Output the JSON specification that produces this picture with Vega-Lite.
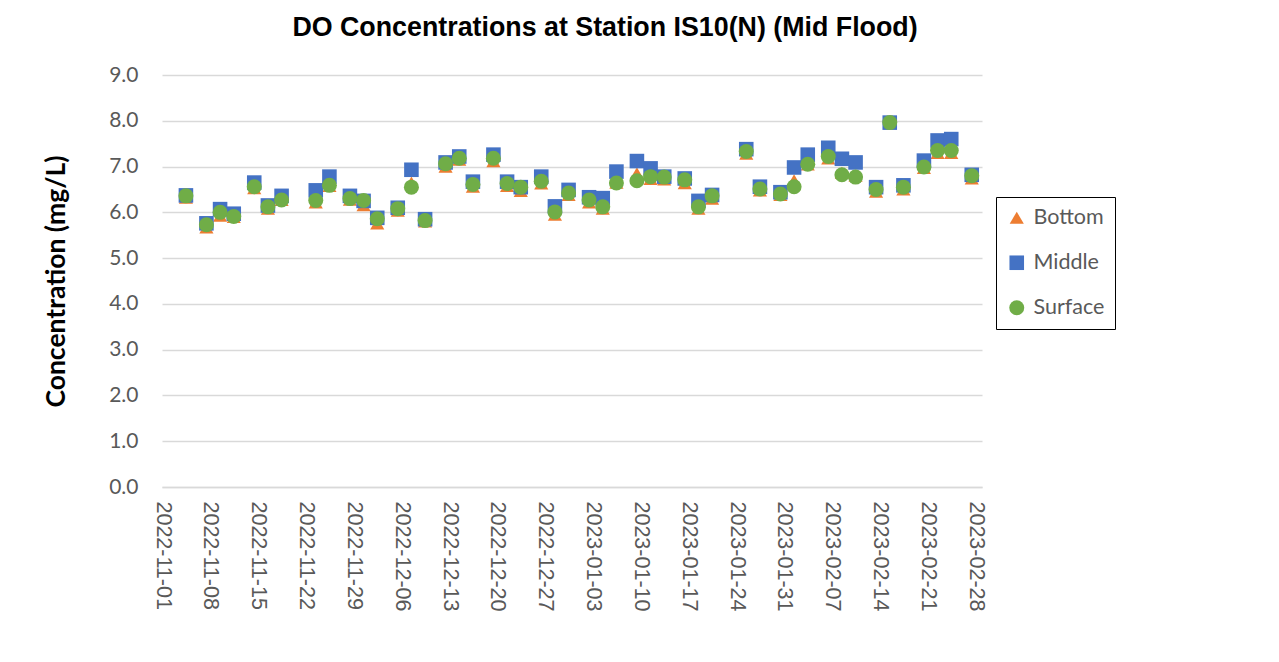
{
  "$schema": "https://vega.github.io/schema/vega-lite/v6.json",
  "width": 820,
  "height": 412,
  "autosize": {"type": "none"},
  "padding": {"left": 162, "top": 75, "right": 297, "bottom": 175},
  "background": "white",
  "title": {
    "text": "DO Concentrations at Station IS10(N) (Mid Flood)",
    "font": "Liberation Sans",
    "fontSize": 26.8,
    "fontWeight": "bold",
    "color": "black",
    "anchor": "middle",
    "dx": 33,
    "offset": 22
  },
  "data": {
    "values": [
      {"date": "2022-11-04", "Bottom": 6.32, "Middle": 6.37, "Surface": 6.36},
      {"date": "2022-11-07", "Bottom": 5.67, "Middle": 5.76, "Surface": 5.73},
      {"date": "2022-11-09", "Bottom": 5.93, "Middle": 6.07, "Surface": 6.00},
      {"date": "2022-11-11", "Bottom": 5.90, "Middle": 5.97, "Surface": 5.91},
      {"date": "2022-11-14", "Bottom": 6.53, "Middle": 6.65, "Surface": 6.56},
      {"date": "2022-11-16", "Bottom": 6.08, "Middle": 6.15, "Surface": 6.12},
      {"date": "2022-11-18", "Bottom": 6.27, "Middle": 6.36, "Surface": 6.27},
      {"date": "2022-11-23", "Bottom": 6.22, "Middle": 6.48, "Surface": 6.26},
      {"date": "2022-11-25", "Bottom": 6.58, "Middle": 6.78, "Surface": 6.59},
      {"date": "2022-11-28", "Bottom": 6.28, "Middle": 6.36, "Surface": 6.30},
      {"date": "2022-11-30", "Bottom": 6.16, "Middle": 6.25, "Surface": 6.26},
      {"date": "2022-12-02", "Bottom": 5.76, "Middle": 5.88, "Surface": 5.86},
      {"date": "2022-12-05", "Bottom": 6.04, "Middle": 6.10, "Surface": 6.08},
      {"date": "2022-12-07", "Bottom": 6.65, "Middle": 6.93, "Surface": 6.55},
      {"date": "2022-12-09", "Bottom": 5.80, "Middle": 5.85, "Surface": 5.82},
      {"date": "2022-12-12", "Bottom": 7.00, "Middle": 7.09, "Surface": 7.06},
      {"date": "2022-12-14", "Bottom": 7.15, "Middle": 7.22, "Surface": 7.18},
      {"date": "2022-12-16", "Bottom": 6.56, "Middle": 6.67, "Surface": 6.61},
      {"date": "2022-12-19", "Bottom": 7.12, "Middle": 7.26, "Surface": 7.18},
      {"date": "2022-12-21", "Bottom": 6.58, "Middle": 6.67, "Surface": 6.63},
      {"date": "2022-12-23", "Bottom": 6.47, "Middle": 6.55, "Surface": 6.55},
      {"date": "2022-12-26", "Bottom": 6.63, "Middle": 6.78, "Surface": 6.68},
      {"date": "2022-12-28", "Bottom": 5.95, "Middle": 6.13, "Surface": 6.01},
      {"date": "2022-12-30", "Bottom": 6.38, "Middle": 6.49, "Surface": 6.42},
      {"date": "2023-01-02", "Bottom": 6.22, "Middle": 6.33, "Surface": 6.27},
      {"date": "2023-01-04", "Bottom": 6.08, "Middle": 6.31, "Surface": 6.12},
      {"date": "2023-01-06", "Bottom": 6.65, "Middle": 6.89, "Surface": 6.64},
      {"date": "2023-01-09", "Bottom": 6.85, "Middle": 7.12, "Surface": 6.69},
      {"date": "2023-01-11", "Bottom": 6.73, "Middle": 6.96, "Surface": 6.78},
      {"date": "2023-01-13", "Bottom": 6.72, "Middle": 6.78, "Surface": 6.77},
      {"date": "2023-01-16", "Bottom": 6.64, "Middle": 6.74, "Surface": 6.71},
      {"date": "2023-01-18", "Bottom": 6.08, "Middle": 6.25, "Surface": 6.12},
      {"date": "2023-01-20", "Bottom": 6.30, "Middle": 6.38, "Surface": 6.36},
      {"date": "2023-01-25", "Bottom": 7.28, "Middle": 7.38, "Surface": 7.33},
      {"date": "2023-01-27", "Bottom": 6.48, "Middle": 6.56, "Surface": 6.51},
      {"date": "2023-01-30", "Bottom": 6.38, "Middle": 6.44, "Surface": 6.40},
      {"date": "2023-02-01", "Bottom": 6.70, "Middle": 6.98, "Surface": 6.56},
      {"date": "2023-02-03", "Bottom": 7.05, "Middle": 7.26, "Surface": 7.05},
      {"date": "2023-02-06", "Bottom": 7.18, "Middle": 7.41, "Surface": 7.22},
      {"date": "2023-02-08", "Bottom": 6.86, "Middle": 7.17, "Surface": 6.82},
      {"date": "2023-02-10", "Bottom": 6.80, "Middle": 7.09, "Surface": 6.77},
      {"date": "2023-02-13", "Bottom": 6.45, "Middle": 6.55, "Surface": 6.50},
      {"date": "2023-02-15", "Bottom": 7.95, "Middle": 7.96, "Surface": 7.96},
      {"date": "2023-02-17", "Bottom": 6.50, "Middle": 6.59, "Surface": 6.55},
      {"date": "2023-02-20", "Bottom": 6.97, "Middle": 7.13, "Surface": 6.99},
      {"date": "2023-02-22", "Bottom": 7.30, "Middle": 7.57, "Surface": 7.35},
      {"date": "2023-02-24", "Bottom": 7.30, "Middle": 7.60, "Surface": 7.35},
      {"date": "2023-02-27", "Bottom": 6.74, "Middle": 6.82, "Surface": 6.80}
    ]
  },
  "transform": [
    {"fold": ["Bottom", "Middle", "Surface"], "as": ["series", "value"]}
  ],
  "mark": {"type": "point", "filled": true, "opacity": 1},
  "encoding": {
    "x": {
      "field": "date",
      "type": "temporal",
      "timeUnit": "utcyearmonthdate",
      "bandPosition": 0.5,
      "scale": {
        "type": "utc",
        "domain": [
          {"year": 2022, "month": "nov", "date": 1, "utc": true},
          {"year": 2023, "month": "mar", "date": 1, "utc": true}
        ]
      },
      "axis": {
        "title": null,
        "values": [
          {"year": 2022, "month": "nov", "date": 1, "utc": true},
          {"year": 2022, "month": "nov", "date": 8, "utc": true},
          {"year": 2022, "month": "nov", "date": 15, "utc": true},
          {"year": 2022, "month": "nov", "date": 22, "utc": true},
          {"year": 2022, "month": "nov", "date": 29, "utc": true},
          {"year": 2022, "month": "dec", "date": 6, "utc": true},
          {"year": 2022, "month": "dec", "date": 13, "utc": true},
          {"year": 2022, "month": "dec", "date": 20, "utc": true},
          {"year": 2022, "month": "dec", "date": 27, "utc": true},
          {"year": 2023, "month": "jan", "date": 3, "utc": true},
          {"year": 2023, "month": "jan", "date": 10, "utc": true},
          {"year": 2023, "month": "jan", "date": 17, "utc": true},
          {"year": 2023, "month": "jan", "date": 24, "utc": true},
          {"year": 2023, "month": "jan", "date": 31, "utc": true},
          {"year": 2023, "month": "feb", "date": 7, "utc": true},
          {"year": 2023, "month": "feb", "date": 14, "utc": true},
          {"year": 2023, "month": "feb", "date": 21, "utc": true},
          {"year": 2023, "month": "feb", "date": 28, "utc": true}
        ],
        "format": "%Y-%m-%d",
        "labelAngle": 90,
        "labelFont": "Liberation Sans",
        "labelFontSize": 21.5,
        "labelColor": "#595959",
        "labelPadding": 14,
        "labelOverlap": false,
        "labelFlush": false,
        "ticks": false,
        "grid": false,
        "domain": true,
        "domainColor": "#D9D9D9",
        "domainWidth": 1.5
      }
    },
    "y": {
      "field": "value",
      "type": "quantitative",
      "scale": {"domain": [0, 9], "nice": false, "zero": true},
      "axis": {
        "title": "Concentration (mg/L)",
        "titleFont": "Lato",
        "titleFontSize": 26.5,
        "titleFontWeight": "bold",
        "titleColor": "black",
        "titlePadding": 38,
        "values": [0, 1, 2, 3, 4, 5, 6, 7, 8, 9],
        "format": ".1f",
        "labelFont": "Lato",
        "labelFontSize": 21,
        "labelColor": "#595959",
        "labelPadding": 24,
        "ticks": false,
        "domain": false,
        "grid": true,
        "gridColor": "#D9D9D9",
        "gridWidth": 1.5
      }
    },
    "color": {
      "field": "series",
      "type": "nominal",
      "scale": {"domain": ["Bottom", "Middle", "Surface"], "range": ["#ED7D31", "#4472C4", "#70AD47"]},
      "legend": {
        "orient": "none",
        "legendX": 834,
        "legendY": 122,
        "title": null,
        "strokeColor": "black",
        "padding": 10,
        "labelFont": "Lato",
        "labelFontSize": 21.5,
        "labelColor": "#595959",
        "symbolSize": 180,
        "rowPadding": 22,
        "labelOffset": 6,
        "fillColor": "white"
      }
    },
    "shape": {
      "field": "series",
      "type": "nominal",
      "scale": {"domain": ["Bottom", "Middle", "Surface"], "range": ["triangle-up", "square", "circle"]}
    },
    "size": {
      "field": "series",
      "type": "nominal",
      "scale": {"domain": ["Bottom", "Middle", "Surface"], "range": [200, 225, 160]},
      "legend": null
    },
    "order": {"field": "series", "type": "ordinal"}
  },
  "config": {
    "view": {"stroke": null}
  }
}
